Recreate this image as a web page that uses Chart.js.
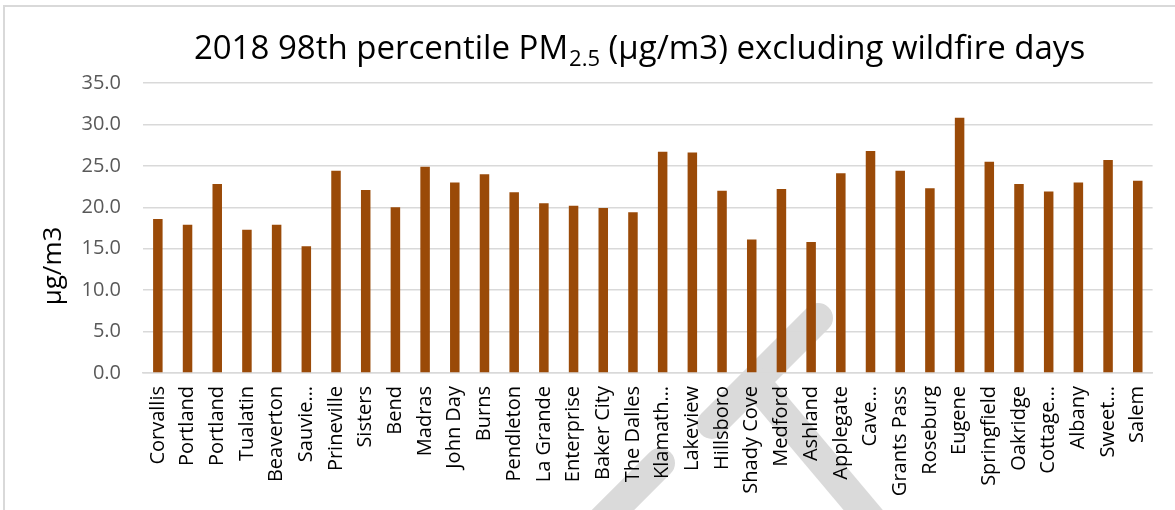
<!DOCTYPE html>
<html>
<head>
<meta charset="utf-8">
<script src="https://cdn.jsdelivr.net/npm/chart.js@4/dist/chart.umd.min.js"></script>
<style>
  html, body { margin: 0; padding: 0; background: #ffffff; }
  #wrap { width: 1175px; height: 510px; }
</style>
</head>
<body>
<div id="wrap"><canvas id="c" width="1175" height="510"></canvas></div>
<script>
// ---- data ----
const categories = [
  "Corvallis", "Portland", "Portland", "Tualatin", "Beaverton", "Sauvie\u2026",
  "Prineville", "Sisters", "Bend", "Madras", "John Day", "Burns",
  "Pendleton", "La Grande", "Enterprise", "Baker City", "The Dalles", "Klamath\u2026",
  "Lakeview", "Hillsboro", "Shady Cove", "Medford", "Ashland", "Applegate",
  "Cave\u2026", "Grants Pass", "Roseburg", "Eugene", "Springfield", "Oakridge",
  "Cottage\u2026", "Albany", "Sweet\u2026", "Salem"
];
const pm25Values = [
  18.6, 17.9, 22.8, 17.3, 17.9, 15.3,
  24.4, 22.1, 20.0, 24.9, 23.0, 24.0,
  21.8, 20.5, 20.2, 19.9, 19.4, 26.7,
  26.6, 22.0, 16.1, 22.2, 15.8, 24.1,
  26.8, 24.4, 22.3, 30.8, 25.5, 22.8,
  21.9, 23.0, 25.7, 23.2
];
const yTickValues = [0, 5, 10, 15, 20, 25, 30, 35];
const titleParts = ["2018 98th percentile PM", "2.5", " (\u00b5g/m3) excluding wildfire days"];
const yAxisTitle = "\u00b5g/m3";

const FONT = "'Open Sans', 'Noto Sans', 'DejaVu Sans', sans-serif";

const decorPlugin = {
  id: 'decor',
  beforeDraw(chart) {
    const ctx = chart.ctx;
    ctx.save();
    ctx.fillStyle = '#ffffff';
    ctx.fillRect(0, 0, chart.width, chart.height);
    // outer frame (top and left edges visible)
    ctx.strokeStyle = '#d9d9d9';
    ctx.lineWidth = 2;
    ctx.beginPath();
    ctx.moveTo(4, chart.height + 2);
    ctx.lineTo(4, 6);
    ctx.lineTo(chart.width + 2, 6);
    ctx.stroke();
    // grey diagonal overlay strokes
    ctx.strokeStyle = '#dadada';
    ctx.lineWidth = 30;
    ctx.lineCap = 'round';
    ctx.beginPath(); ctx.moveTo(818, 318); ctx.lineTo(712, 424); ctx.stroke();
    ctx.beginPath(); ctx.moveTo(660, 463); ctx.lineTo(590, 533); ctx.stroke();
    ctx.lineCap = 'butt';
    ctx.beginPath(); ctx.moveTo(752, 378); ctx.lineTo(880, 530); ctx.stroke();
    ctx.restore();
  },
  afterDraw(chart) {
    const ctx = chart.ctx;
    ctx.save();
    // title with subscript
    const big = "33px " + FONT, small = "22px " + FONT;
    ctx.font = big; const w1 = ctx.measureText(titleParts[0]).width;
    const w3 = ctx.measureText(titleParts[2]).width;
    ctx.font = small; const w2 = ctx.measureText(titleParts[1]).width;
    const total = w1 + w2 + w3;
    let x = 639 - total / 2;
    const base = 59;
    ctx.fillStyle = '#000000';
    ctx.textBaseline = 'alphabetic';
    ctx.textAlign = 'left';
    ctx.font = big; ctx.fillText(titleParts[0], x, base); x += w1;
    ctx.font = small; ctx.fillText(titleParts[1], x + 1, base + 7); x += w2 + 1;
    ctx.font = big; ctx.fillText(titleParts[2], x, base);
    // y axis title
    ctx.translate(54, 266);
    ctx.rotate(-Math.PI / 2);
    ctx.textAlign = 'center';
    ctx.textBaseline = 'middle';
    ctx.font = "26px " + FONT;
    ctx.fillText(yAxisTitle, 0, 0);
    ctx.restore();
  }
};

new Chart(document.getElementById('c'), {
  type: 'bar',
  data: {
    labels: categories,
    datasets: [{
      label: 'PM2.5',
      data: pm25Values,
      backgroundColor: '#9a4a08',
      borderWidth: 0,
      barPercentage: 0.32,
      categoryPercentage: 1.0
    }]
  },
  options: {
    responsive: false,
    animation: false,
    devicePixelRatio: 1,
    layout: { padding: { top: 83, right: 16, bottom: 0, left: 0 } },
    plugins: {
      legend: { display: false },
      tooltip: { enabled: false },
      title: { display: false }
    },
    scales: {
      x: {
        grid: { display: false, drawTicks: false },
        border: { display: true, color: '#d9d9d9', width: 1.5 },
        ticks: {
          autoSkip: false,
          maxRotation: 90,
          minRotation: 90,
          padding: 13,
          color: '#000000',
          font: { family: FONT, size: 20 }
        },
        afterFit(scale) { scale.height = 137; }
      },
      y: {
        min: 0,
        max: 35,
        afterBuildTicks(scale) { scale.ticks = yTickValues.map(v => ({ value: v })); },
        grid: { color: '#d9d9d9', lineWidth: 1.5, drawTicks: false },
        border: { display: false },
        ticks: {
          padding: 22,
          color: '#595959',
          font: { family: FONT, size: 20 },
          callback: (v) => Number(v).toFixed(1)
        },
        afterFit(scale) { scale.width = 143; }
      }
    }
  },
  plugins: [decorPlugin]
});
</script>
</body>
</html>
